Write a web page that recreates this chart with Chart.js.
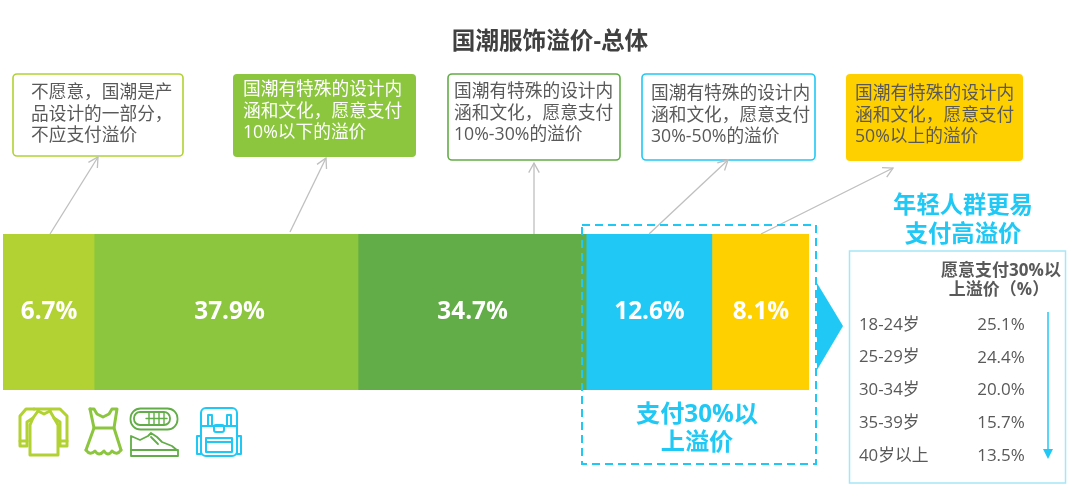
<!DOCTYPE html>
<html lang="zh">
<head>
<meta charset="utf-8">
<title>国潮服饰溢价-总体</title>
<style>
  html, body { margin: 0; padding: 0; background: #fff; }
  canvas { display: block; }
</style>
<script src="https://cdn.jsdelivr.net/npm/chart.js@4/dist/chart.umd.min.js"></script>
</head>
<body>
<canvas id="premiumChart" width="1080" height="501"></canvas>
<script>
const segmentNames = ['不愿意', '10%以下', '10%-30%', '30%-50%', '50%以上'];
const segmentLabels = ['6.7%', '37.9%', '34.7%', '12.6%', '8.1%'];
// the original bar is not to scale with its printed labels, so these are the drawn lengths (% of the bar)
const segmentLengths = [11.3, 32.75, 28.3, 15.6, 12.05];
const segmentColors = ['#b1d232', '#8bc63e', '#62ad47', '#1fc8f5', '#ffd000'];

const calloutLines = [
    ['不愿意，国潮是产', '品设计的一部分，', '不应支付溢价'],
    ['国潮有特殊的设计内', '涵和文化，愿意支付', '10%以下的溢价'],
    ['国潮有特殊的设计内', '涵和文化，愿意支付', '10%-30%的溢价'],
    ['国潮有特殊的设计内', '涵和文化，愿意支付', '30%-50%的溢价'],
    ['国潮有特殊的设计内', '涵和文化，愿意支付', '50%以上的溢价']
];
const ageGroups = ['18-24岁', '25-29岁', '30-34岁', '35-39岁', '40岁以上'];
const ageValues = ['25.1%', '24.4%', '20.0%', '15.7%', '13.5%'];

const FONT = '"Open Sans", "Noto Sans CJK SC", sans-serif';
const BLUE = '#1fc8f5';
const TEXT = '#595959';

// x, y, w, h, filled, text x, first line y
const calloutBoxes = [
    [13, 74, 170, 82, false, 31, 93],
    [233, 74, 183, 83, true, 243, 90],
    [448, 74, 172, 86, false, 454, 92],
    [642, 74, 173, 86, false, 651, 94],
    [846, 74, 177, 87, true, 855, 94]
];
const arrows = [
    [50, 234, 98, 157],
    [290, 232, 326, 158],
    [534, 234, 534, 163],
    [649, 234, 728, 160],
    [761, 234, 893, 168]
];

function drawText(ctx, str, x, y, size, color, bold, align) {
    ctx.font = (bold ? 'bold ' : '') + size + 'px ' + FONT;
    ctx.fillStyle = color;
    ctx.textAlign = align || 'left';
    ctx.textBaseline = 'middle';
    ctx.fillText(str, x, y);
}

function poly(ctx, pts, close) {
    ctx.beginPath();
    pts.forEach((p, i) => i ? ctx.lineTo(p[0], p[1]) : ctx.moveTo(p[0], p[1]));
    if (close) ctx.closePath();
    ctx.stroke();
}

function drawIcons(ctx) {
    ctx.lineJoin = 'round';
    ctx.lineCap = 'round';

    // sweater
    ctx.strokeStyle = segmentColors[0];
    ctx.lineWidth = 3;
    poly(ctx, [[34, 409], [54, 409], [60, 409], [67, 416], [67, 446], [60, 446], [60, 422], [54, 418], [50, 411]]);
    poly(ctx, [[34, 409], [26, 409], [20, 416], [20, 446], [27, 446], [27, 422], [33, 418], [38, 411]]);
    poly(ctx, [[33, 418], [30, 425], [30, 455], [58, 455], [58, 425], [54, 418]]);
    poly(ctx, [[38, 411], [44, 414], [50, 411]]);
    poly(ctx, [[20, 441], [27, 441]]);
    poly(ctx, [[60, 441], [67, 441]]);

    // dress
    ctx.strokeStyle = segmentColors[1];
    ctx.lineWidth = 3;
    poly(ctx, [[90, 409], [94, 409], [97, 414], [103, 417], [109, 414], [112, 409], [117, 409], [114, 428], [121, 450]]);
    poly(ctx, [[90, 409], [94, 428], [86, 450]]);
    poly(ctx, [[94, 428], [114, 428]]);
    ctx.beginPath();
    ctx.moveTo(86, 450);
    ctx.quadraticCurveTo(90, 456, 95, 451);
    ctx.quadraticCurveTo(99, 457, 104, 451);
    ctx.quadraticCurveTo(108, 457, 112, 451);
    ctx.quadraticCurveTo(117, 456, 121, 450);
    ctx.stroke();

    // shoes, top view and side view
    ctx.strokeStyle = segmentColors[2];
    ctx.lineWidth = 1.8;
    ctx.beginPath();
    ctx.roundRect(130.5, 408.5, 47, 21, 10);
    ctx.stroke();
    ctx.beginPath();
    ctx.roundRect(134, 412, 36, 13, 6);
    ctx.stroke();
    ctx.lineWidth = 1.4;
    for (let x = 149; x <= 164; x += 5) poly(ctx, [[x, 413], [x, 424]]);
    poly(ctx, [[146, 418.5], [167, 418.5]]);
    ctx.lineWidth = 1.8;
    poly(ctx, [[131, 436], [140, 440], [148, 436], [151, 433], [157, 437], [162, 442], [172, 446], [178, 451], [178, 456], [131, 456]], true);
    poly(ctx, [[131, 450], [178, 450]]);
    poly(ctx, [[151, 437], [158, 444]]);

    // backpack
    ctx.strokeStyle = segmentColors[3];
    ctx.lineWidth = 2;
    ctx.beginPath();
    ctx.roundRect(201, 408, 36, 48, 5);
    ctx.stroke();
    poly(ctx, [[201, 426], [237, 426]]);
    ctx.strokeRect(206, 438, 26, 14);
    poly(ctx, [[206, 442], [232, 442]]);
    ctx.strokeRect(208, 415, 4, 11);
    ctx.strokeRect(227, 415, 4, 11);
    ctx.beginPath();
    ctx.roundRect(214, 425, 10, 7, 2);
    ctx.stroke();
    ctx.strokeRect(197, 436, 4, 18);
    ctx.strokeRect(237, 436, 4, 18);
}

const annotationsPlugin = {
    id: 'annotations',
    beforeDraw(chart) {
        const ctx = chart.ctx;
        ctx.save();
        ctx.fillStyle = '#fff';
        ctx.fillRect(0, 0, chart.width, chart.height);
        ctx.restore();
    },
    afterDraw(chart) {
        const ctx = chart.ctx;
        ctx.save();

        drawText(ctx, '国潮服饰溢价-总体', 550, 42, 23.6, '#404040', true, 'center');

        // value labels sit in the middle of each segment
        segmentLabels.forEach((label, i) => {
            const bar = chart.getDatasetMeta(i).data[0];
            // the 37.9% label sits a little right of centre in the original
            const nudge = i === 1 ? 3.5 : 0.5;
            drawText(ctx, label, (bar.base + bar.x) / 2 + nudge, bar.y, 24.3, '#fff', true, 'center');
        });

        // callout boxes
        calloutBoxes.forEach((b, i) => {
            ctx.beginPath();
            ctx.roundRect(b[0], b[1], b[2], b[3], 4);
            if (b[4]) {
                ctx.fillStyle = segmentColors[i];
                ctx.fill();
            } else {
                ctx.strokeStyle = segmentColors[i];
                ctx.lineWidth = 1.6;
                ctx.stroke();
            }
            calloutLines[i].forEach((line, j) => {
                drawText(ctx, line, b[5], b[6] + j * 21.5, 17.7, i === 1 ? '#fff' : TEXT, false);
            });
        });

        // leader arrows
        ctx.strokeStyle = '#bfbfbf';
        ctx.lineWidth = 1.3;
        arrows.forEach(a => {
            const ang = Math.atan2(a[3] - a[1], a[2] - a[0]);
            poly(ctx, [[a[0], a[1]], [a[2], a[3]]]);
            poly(ctx, [
                [a[2] - 11 * Math.cos(ang - 0.5), a[3] - 11 * Math.sin(ang - 0.5)],
                [a[2], a[3]],
                [a[2] - 11 * Math.cos(ang + 0.5), a[3] - 11 * Math.sin(ang + 0.5)]
            ]);
        });

        // dashed frame around the two right segments
        ctx.strokeStyle = BLUE;
        ctx.lineWidth = 2;
        ctx.setLineDash([8, 5]);
        ctx.strokeRect(582, 225, 234, 239);
        ctx.setLineDash([]);
        drawText(ctx, '支付30%以', 697, 415, 24.2, BLUE, true, 'center');
        drawText(ctx, '上溢价', 697, 443, 24.2, BLUE, true, 'center');

        // triangle pointing at the age panel
        ctx.fillStyle = BLUE;
        ctx.beginPath();
        ctx.moveTo(817, 283);
        ctx.lineTo(843, 326);
        ctx.lineTo(817, 370);
        ctx.closePath();
        ctx.fill();

        // age panel
        drawText(ctx, '年轻人群更易', 963, 206, 23.3, BLUE, true, 'center');
        drawText(ctx, '支付高溢价', 963, 235, 23.3, BLUE, true, 'center');
        ctx.strokeStyle = '#a5e6f9';
        ctx.lineWidth = 1.5;
        ctx.strokeRect(849.5, 251, 216, 232);
        drawText(ctx, '愿意支付30%以', 1001, 271, 17, TEXT, true, 'center');
        drawText(ctx, '上溢价（%）', 999, 290, 17, TEXT, true, 'center');
        ageGroups.forEach((group, i) => {
            const y = 325 + i * 32.7;
            drawText(ctx, group, 859, y, 16.8, TEXT, false);
            drawText(ctx, ageValues[i], 1001, y, 17, TEXT, false, 'center');
        });
        ctx.strokeStyle = BLUE;
        ctx.lineWidth = 1.5;
        poly(ctx, [[1048, 312], [1048, 450]]);
        ctx.fillStyle = BLUE;
        ctx.beginPath();
        ctx.moveTo(1043, 449);
        ctx.lineTo(1053, 449);
        ctx.lineTo(1048, 459);
        ctx.closePath();
        ctx.fill();

        drawIcons(ctx);
        ctx.restore();
    }
};

new Chart(document.getElementById('premiumChart').getContext('2d'), {
    type: 'bar',
    data: {
        labels: ['总体'],
        datasets: segmentLengths.map((v, i) => ({
            label: segmentNames[i],
            data: [v],
            backgroundColor: segmentColors[i],
            borderWidth: 0,
            barPercentage: 1,
            categoryPercentage: 1
        }))
    },
    options: {
        indexAxis: 'y',
        responsive: false,
        animation: false,
        layout: { padding: { left: 3, right: 271, top: 234, bottom: 111 } },
        scales: {
            x: { stacked: true, display: false, min: 0, max: 100 },
            y: { stacked: true, display: false }
        },
        plugins: {
            legend: { display: false },
            tooltip: { enabled: false },
            title: { display: false }
        }
    },
    plugins: [annotationsPlugin]
});
</script>
</body>
</html>
